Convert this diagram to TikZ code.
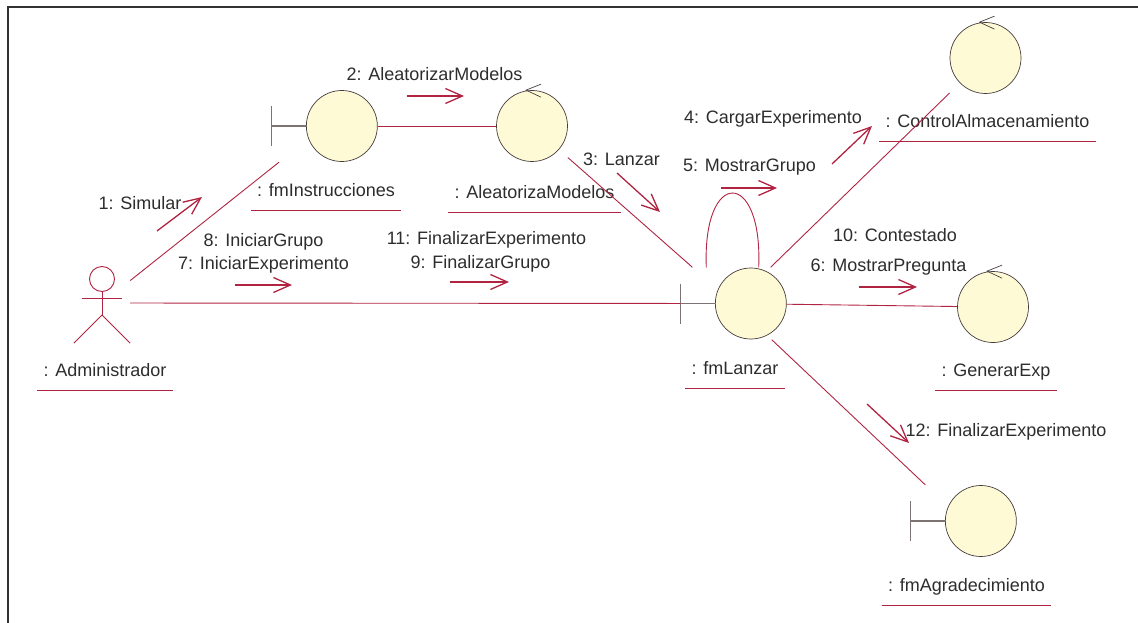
\documentclass[tikz,border=0pt]{standalone}
\usepackage{fontspec}
\setmainfont{Liberation Sans}
\usetikzlibrary{arrows.meta}
\definecolor{roseRed}{RGB}{176,36,66}
\definecolor{ballFill}{RGB}{255,250,214}
\definecolor{ballEdge}{RGB}{70,60,60}
\definecolor{barGray}{RGB}{125,115,115}
\definecolor{textGray}{RGB}{45,45,45}
\definecolor{frameGray}{RGB}{50,50,50}
\newcommand{\roseFont}{\fontsize{18}{21}\selectfont}
\tikzset{
  roseFrame/.style={draw=frameGray, line width=2.4pt},
  roseLink/.style={draw=roseRed, line width=0.9pt},
  roseMsg/.style={draw=roseRed, line width=1.3pt, -{Straight Barb[length=17pt,width=15pt]}},
  roseBall/.style={draw=ballEdge, fill=ballFill, line width=0.7pt, rounded corners=35.5pt, minimum size=71pt, inner sep=0pt},
  roseBndBox/.style={minimum width=106pt, minimum height=72pt, inner sep=0pt},
  roseActorBox/.style={minimum width=56pt, minimum height=80pt, inner sep=0pt},
  roseBar/.style={draw=barGray, line width=1.2pt},
  roseCtrl/.style={draw=ballEdge, line width=0.7pt},
  roseMsgLabel/.style={font=\roseFont, text=textGray, inner sep=0pt, text height=13pt, text depth=4pt},
  roseObjLabel/.style={font=\roseFont, text=textGray, inner xsep=6pt, inner ysep=10pt, text height=12pt, text depth=4pt,
    append after command={(\tikzlastnode.south west) edge[roseLink] (\tikzlastnode.south east)}}
}
\begin{document}
\begin{tikzpicture}[x=1pt, y=-1pt]
  \useasboundingbox (0,0) rectangle (1138,623);
  \draw[roseFrame] (8,630) -- (8,7) -- (1145,7);

  % objetos
  \node[roseActorBox] (admin) at (102,303) {};
  \node[roseBndBox] (inst) at (324.5,126) {};
  \node[roseBall] (aleat) at (532,126) {};
  \node[roseBall] (ctrl) at (985.5,58) {};
  \node[roseBndBox] (lanzar) at (733.5,303.5) {};
  \node[roseBall] (gen) at (993,307) {};
  \node[roseBndBox] (agrad) at (963.5,521) {};
  \foreach \b in {inst,lanzar,agrad} {
    \node[roseBall, anchor=east] (\b Ball) at (\b.east) {};
    \draw[roseBar] (\b.west) -- (\b Ball.west);
    \draw[roseBar] ([yshift=20pt]\b.west) -- ([yshift=-20pt]\b.west);
  }
  \foreach \c in {aleat,ctrl,gen}
    \draw[roseCtrl] ([shift={(9pt,6pt)}]\c.north) -- ([xshift=-6pt]\c.north) -- ([shift={(9pt,-7pt)}]\c.north);

  % actor
  \draw[roseLink] ([yshift=24pt]admin.center) circle (12.5pt);
  \draw[roseLink] ([shift={(-20pt,5pt)}]admin.center) -- ([shift={(20pt,5pt)}]admin.center);
  \draw[roseLink] ([yshift=11.5pt]admin.center) -- ([yshift=-12pt]admin.center);
  \draw[roseLink] (admin.south west) -- ([yshift=-12pt]admin.center) -- (admin.south east);

  % nombres
  \node[roseObjLabel] (adminName) at (105,372.5) {: Administrador};
  \node[roseObjLabel] (instName) at (326,192.5) {: fmInstrucciones};
  \node[roseObjLabel] (aleatName) at (534.5,194.5) {: AleatorizaModelos};
  \node[roseObjLabel] (ctrlName) at (987.5,123.5) {: ControlAlmacenamiento};
  \node[roseObjLabel] (lanzarName) at (735,370.5) {: fmLanzar};
  \node[roseObjLabel] (genName) at (996,372.5) {: GenerarExp};
  \node[roseObjLabel] (agradName) at (966.5,587.5) {: fmAgradecimiento};

  % enlaces
  \draw[roseLink] (admin) -- (inst);
  \draw[roseLink] (admin) -- (lanzar);
  \draw[roseLink] (inst) -- (aleat);
  \draw[roseLink] (aleat) -- (lanzar);
  \draw[roseLink] (lanzar) -- (ctrl);
  \draw[roseLink] (lanzar) -- (gen);
  \draw[roseLink] (lanzar) -- (agrad);
  \draw[roseLink] ([xshift=26pt]lanzar.north west) .. controls +(-4,-99) and +(4,-99) .. ([xshift=-28pt]lanzar.north east);

  % mensajes
  \node[roseMsgLabel] (msg1) at (140,205) {1: Simular};
  \node[roseMsgLabel] (msg2) at (434.5,76) {2: AleatorizarModelos};
  \node[roseMsgLabel] (msg3) at (621.5,161) {3: Lanzar};
  \node[roseMsgLabel] (msg4) at (773,119) {4: CargarExperimento};
  \node[roseMsgLabel] (msg5) at (749.5,167) {5: MostrarGrupo};
  \node[roseMsgLabel] (msg6) at (888.5,267) {6: MostrarPregunta};
  \node[roseMsgLabel] (msg7) at (263.5,265) {7: IniciarExperimento};
  \node[roseMsgLabel] (msg8) at (263.5,242) {8: IniciarGrupo};
  \node[roseMsgLabel] (msg9) at (480.5,264) {9: FinalizarGrupo};
  \node[roseMsgLabel] (msg10) at (895,237) {10: Contestado};
  \node[roseMsgLabel] (msg11) at (486.5,240) {11: FinalizarExperimento};
  \node[roseMsgLabel] (msg12) at (1006,432) {12: FinalizarExperimento};

  \coordinate (simA) at (157,231);  \coordinate (simB) at (202,197);
  \coordinate (aleA) at (407,96);   \coordinate (aleB) at (464,96);
  \coordinate (lanA) at (617,173);  \coordinate (lanB) at (660,212);
  \coordinate (carA) at (832,164);  \coordinate (carB) at (872,126);
  \coordinate (grpA) at (721,188);  \coordinate (grpB) at (777,188);
  \coordinate (preA) at (859,287);  \coordinate (preB) at (917,287);
  \coordinate (iniA) at (235,285);  \coordinate (iniB) at (292,285);
  \coordinate (finA) at (450,282);  \coordinate (finB) at (509,282);
  \coordinate (agrA) at (867,404);  \coordinate (agrB) at (909,443);
  \draw[roseMsg] (simA) -- (simB);
  \draw[roseMsg] (aleA) -- (aleB);
  \draw[roseMsg] (lanA) -- (lanB);
  \draw[roseMsg] (carA) -- (carB);
  \draw[roseMsg] (grpA) -- (grpB);
  \draw[roseMsg] (preA) -- (preB);
  \draw[roseMsg] (iniA) -- (iniB);
  \draw[roseMsg] (finA) -- (finB);
  \draw[roseMsg] (agrA) -- (agrB);
\end{tikzpicture}
\end{document}
